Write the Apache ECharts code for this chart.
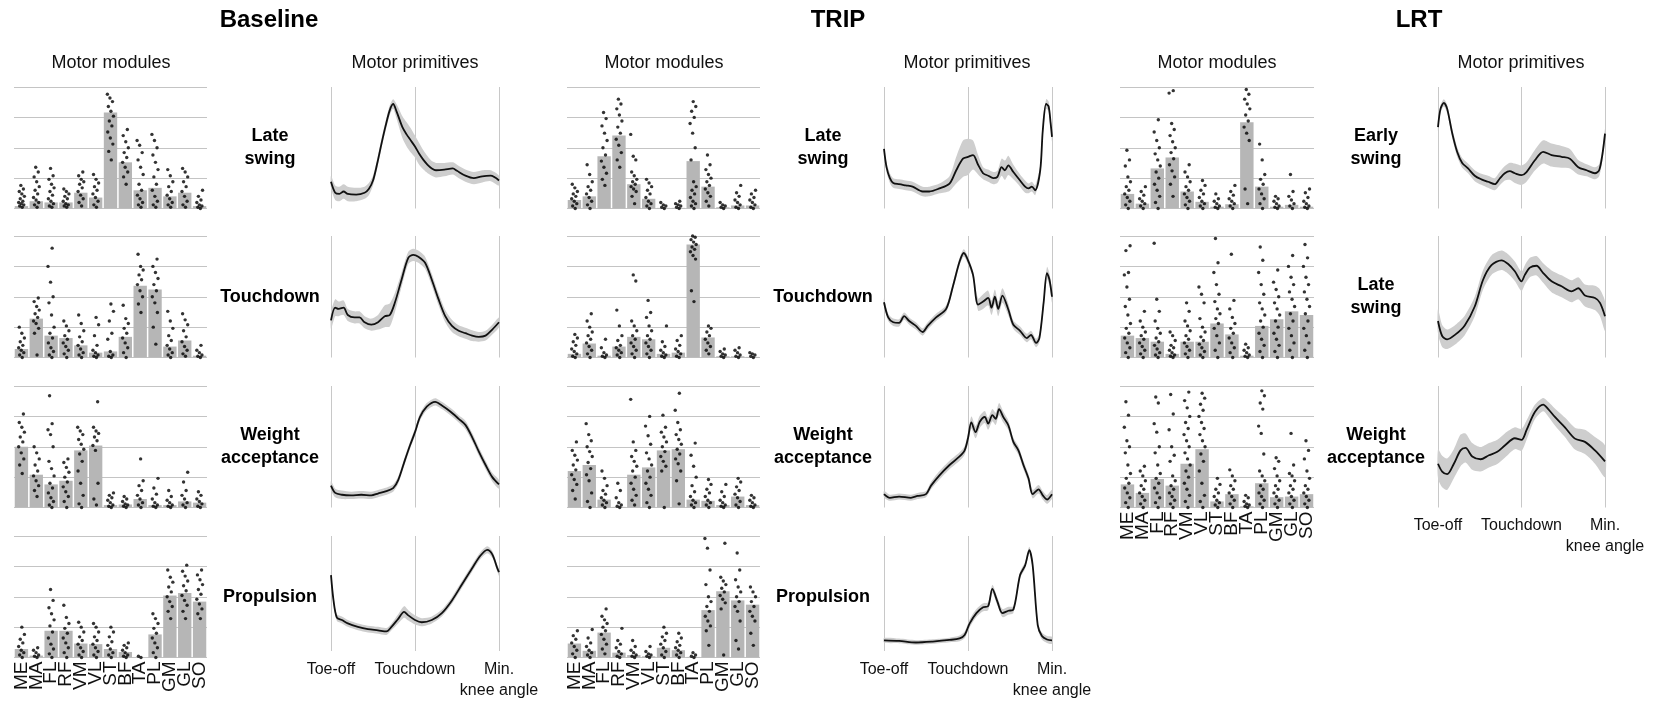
<!DOCTYPE html>
<html><head><meta charset="utf-8">
<script src="https://cdn.jsdelivr.net/npm/echarts@6/dist/echarts.min.js"></script>
<style>html,body{margin:0;padding:0;background:#fff}#c{width:1653px;height:701px}</style>
</head><body><div id="c"></div>
<script>
// ---------- categories / labels ----------
const muscles = ['ME','MA','FL','RF','VM','VL','ST','BF','TA','PL','GM','GL','SO'];
const phaseTicks = ['Toe-off','Touchdown','Min.\nknee angle'];
const groupTitles = ['Baseline','TRIP','LRT'];
const baselineRows = ['Late\nswing','Touchdown','Weight\nacceptance','Propulsion'];
const tripRows = ['Late\nswing','Touchdown','Weight\nacceptance','Propulsion'];
const lrtRows = ['Early\nswing','Late\nswing','Weight\nacceptance'];

// ---------- motor modules (mean bars + individual weights, 0-100) ----------
const baselineLateSwingBars = [2,6,5,5,13,9,79,38,15,17,10,13,2];
const baselineLateSwingDots = [
 [1,2,3,4,5,6,8,10,12,14,16,19],[1,3,5,7,9,12,15,18,22,26,30,34],[1,2,4,6,8,11,14,17,20,24,27,33],
 [1,2,3,4,6,8,10,12,14,16],[2,5,8,11,14,17,20,22,24,27,30],[1,3,6,9,12,15,18,21,24,28],
 [40,47,53,58,63,68,72,76,80,84,88,91,94],[20,26,30,34,38,42,46,50,55,60,65],[1,3,5,8,11,15,20,28,34,40,46,52,56],
 [1,3,6,10,15,20,26,32,38,44,50,56,61],[1,3,5,8,11,14,18,22,27,32],[1,3,6,10,14,18,22,26,30,33],[0,1,2,3,5,7,10,15]];
const baselineTouchdownBars = [7,32,18,16,10,4,5,17,59,56,9,14,1.5];
const baselineTouchdownDots = [
 [0,2,4,6,8,10,13,16,20,25],[2,20,24,28,30,33,36,39,42,46,49],[0,2,5,8,12,16,20,25,35,45,50,62,75,90],
 [0,3,6,9,12,15,18,22,26,30],[0,2,4,7,10,13,17,22,28,35],[0,1,2,4,6,10,18,27,33],
 [0,1,2,5,15,20,30,38,44],[0,4,8,12,16,20,24,28,32,43],[37,44,50,55,60,64,68,72,75,85],
 [11,25,37,45,50,55,60,65,70,75,81],[0,2,4,7,10,14,18,24,30,38],[1,3,6,9,13,17,22,27,31,36],[0,1,2,4,6,10]];
const baselineWeightAccBars = [50,27,19,22,47,51,2,2.5,7,2,2,5,4];
const baselineWeightAccDots = [
 [28,35,40,45,50,54,58,62,66,70,77],[9,14,18,22,26,30,35,40,45,50],[0,2,5,8,12,16,20,26,32,38,50,60,64,69,92],
 [0,5,9,13,17,21,25,29,33,37,40],[0,3,10,20,30,38,44,48,52,56,60,63,66],[2,7,20,47,51,55,58,61,63,66,87],
 [0,1,2,4,6,8,10,12],[0,1,2,3,5,7,9],[0,2,4,7,10,14,18,22,40],
 [0,1,2,4,7,11,16,24],[0,1,2,4,6,9,14],[0,2,4,7,10,14,21,29],[0,1,3,5,7,10,13]];
const baselinePropulsionBars = [7,1.6,22,22,11.5,11,7,4.5,0,19,51,53,46];
const baselinePropulsionDots = [
 [0,2,4,6,9,12,15,19,25],[0,1,2,4,6,8],[0,3,7,11,16,21,26,31,36,41,47,56],
 [0,4,8,12,16,20,24,28,33,43],[0,2,5,8,11,14,17,21,25,29],[0,2,5,8,11,14,17,21,25,28],
 [0,2,4,7,10,13,17,21,25],[0,1,2,4,6,8,10,12],[0,1],
 [0,4,8,12,16,20,24,28,32,36],[32,38,42,46,50,54,58,62,66,72],[32,38,43,47,51,55,59,63,67,71,76],[32,36,40,44,48,52,56,60,64,68,72]];

const tripLateSwingBars = [7,10,43,60,20,8,0.5,0.5,39,18,1,2.5,2.5];
const tripLateSwingDots = [
 [0,2,4,6,8,10,12,14,17,20],[0,3,6,9,12,15,18,22,28,36],[19,24,29,34,39,44,50,56,62,68,74,79],
 [34,40,46,52,57,62,67,72,77,82,86,90],[4,10,14,16,18,20,22,24,27,30,40,43,61],[0,2,4,6,9,12,15,18,21,24],
 [0,1,2,3,5],[0,1,2,3,4,6],[0,2,4,6,9,12,15,18,22,40,50,62,70,75,80,84,88],
 [2,6,10,13,16,19,22,25,28,32,36,44],[0,1,2,3,5],[0,1,3,5,7,10,13,19],[0,1,3,5,7,9,12,15]];
const tripTouchdownBars = [3,11.5,1.5,9,17,15,3,4,93,16.5,1,1,0.5];
const tripTouchdownDots = [
 [0,1,3,5,7,10,13,16,19],[0,3,6,9,12,15,18,21,25,30,36],[0,1,2,4,8,15],
 [0,2,4,6,8,10,14,18,26,39],[0,3,6,9,12,15,18,22,26,30,63,68],[0,3,6,9,12,15,18,22,26,33,37,47],
 [0,1,2,4,6,9,13,26],[0,1,3,5,7,10,14,18],[46,55,81,84,87,89,91,93,95,97,99,100],
 [3,6,9,12,15,18,21,24,26],[0,1,2,3,5,7],[0,1,2,4,6,8],[0,1,2,3,4]];
const tripWeightAccBars = [30,35,6.5,0.5,27,33,47,48,6.5,5.5,2,9,2];
const tripWeightAccDots = [
 [7,14,19,23,27,31,35,39,43,47,54],[0,5,12,22,27,32,37,42,46,50,55,60,69],[0,2,4,6,8,11,14,18,24,30],
 [0,1,2,4,8,14,20],[2,6,10,15,20,25,30,34,38,42,47,54,89],[0,4,10,15,20,25,30,35,40,45,52,59,67,75],
 [0,30,34,38,42,46,50,54,58,62,66,76],[3,22,30,36,40,44,48,52,56,60,64,70,80,94],[0,2,4,6,9,13,18,25,34,43,53],
 [0,2,4,6,9,12,15,19,23],[0,1,2,4,6,9,13,19],[0,2,5,8,11,14,17,21,24],[0,1,2,4,6,8,10]];
const tripPropulsionBars = [11.5,5.5,20.5,4,2,1,8,6,0.5,39,54.5,47,43.5];
const tripPropulsionDots = [
 [0,3,6,9,12,15,18,22],[0,2,4,6,9,12,16,23],[3,7,11,15,19,22,25,28,31,34,40],
 [0,1,3,5,8,11,14,24],[0,1,2,4,6,9,14],[0,1,2,3,5,9],
 [0,2,5,8,11,14,17,20,25],[0,2,4,6,8,10,13,16,20],[0,1,2,4],
 [10,22,26,30,34,38,42,46,50,60,72,90,98],[2,40,45,48,51,54,57,60,63,66,94],[7,14,30,38,42,46,50,54,58,64,72,86],[10,20,30,34,38,42,46,50,54,58]];

const lrtEarlySwingBars = [12,4,33,42,14,5.5,1.5,3.5,71,18,1.5,3,1.5];
const lrtEarlySwingDots = [
 [0,3,6,9,12,15,18,22,26,35,40,48],[0,2,4,6,8,11,14,18],[0,5,10,15,20,25,30,35,40,45,50,56,63,73],
 [10,20,26,31,36,41,46,50,55,60,65,70,95,97],[0,3,6,9,12,15,18,22,26,30,36],[0,2,4,6,9,12,15,19,23],
 [0,1,2,4,6,8,12],[0,2,4,6,8,11,14,19],[4,16,56,62,67,72,77,82,86,90,94,98],
 [0,4,8,12,16,20,24,28,40,53],[0,1,2,4,6,8,10],[0,2,4,7,10,14,28],[0,1,2,4,6,9,13,16]];
const lrtLateSwingBars = [18,16,13,3,13,13,28,19,1.5,26,31.5,38,35];
const lrtLateSwingDots = [
 [0,4,8,12,16,20,24,28,35,42,48,58,68,70,88,92],[0,3,6,9,12,15,18,21,25,30,38],[0,2,4,7,10,13,16,20,24,30,38,48,94],
 [0,1,2,4,6,8,10,14,18,21],[0,3,6,9,12,15,18,22,26,30,38,45],[0,2,5,8,11,14,17,21,25,32,45,52,58],
 [0,6,12,18,24,28,32,36,40,46,52,60,70,78,98],[0,4,8,12,16,20,24,28,33,40,47,85],[0,1,2,4,6,8,11],
 [0,5,10,15,20,25,30,35,40,45,52,60,70,80,91],[0,5,10,15,20,25,30,35,40,45,50,56,62,72],
 [0,6,12,18,24,30,36,42,48,54,60,66,75,84],[0,6,12,18,24,30,36,42,48,54,60,66,75,82,93]];
const lrtWeightAccBars = [19,12,23.5,18,36,48,5,11,1,20,8.5,9,11];
const lrtWeightAccDots = [
 [0,4,8,12,16,20,24,28,35,45,50,55,66,76,87],[0,3,6,9,12,15,18,22,26,30,34],[0,4,8,12,16,20,24,28,35,45,50,62,69,86,91],
 [0,3,6,9,12,15,18,22,26,38,43,50,64,77,93],[0,5,10,15,20,25,30,35,40,45,50,55,60,65,70,75,82,88,95],
 [0,5,10,20,30,38,44,50,55,60,65,70,75,80,85,90,94],[0,2,4,6,9,12,15,19,24],[0,3,6,9,12,15,18,22,26,31],
 [0,1,2,3,5,8,10],[0,3,6,9,12,15,18,22,26,30,44,61,67,81,86,92,96],[0,3,6,9,12,15,18,22,26,32,38,41],
 [0,3,6,9,12,15,18,22,26,28,35,61],[0,3,6,9,12,15,18,24,30,40,47,55]];

// ---------- motor primitives (phase 0=toe-off, 50=touchdown, 100=min knee angle) ----------
const baselineLateSwingPhase = [0,2.5,5,7.5,10,15,20,22.5,25,27.5,30,32.5,35,37,39,42.5,45,47.5,50,52.5,55,57.5,60,62.5,67.5,72.5,75,80,85,90,95,100];
const baselineLateSwingMean  = [22,13,12,14,12,11.5,13,16,23,37,53,68,81,86,80,67,61,56,51,45,40,36,33,31.5,32,33,31,27,25,26.5,27,23];
const baselineLateSwingSpread= [5,6,6,6,6,5.5,5,5,4,4,4,4,4,4,6,9,10,10,9,9,8,7,6,6,5.5,5,5,5,5,5,4.5,4];
const baselineTouchdownPhase = [0,2.5,4.5,7.5,10,14,17,20,24,28,32,35,38,42,46,49,52,56,60,64,68,72,76,80,84,88,92,96,100];
const baselineTouchdownMean  = [30.5,41,40,41,35,33,33,29,27,29,34,35,45,64,82,84.5,83,78,64,48,34,26,22,20,18,17,18,23,29];
const baselineTouchdownSpread= [7,7,6,6,5,5,5,5,5,6,9,9.5,8,6,5,5,5,5,5,5,5,5,4.5,4.5,4.5,4,4,4,4];
const baselineWeightAccPhase = [0,2.5,6.5,12,18,24,28,32,37,40,44,47,50,53,57,62,66,71,76,80,84,88,92,96,100];
const baselineWeightAccMean  = [18,12,10.5,10,10.5,10,11.5,13,16,22.5,39,51,62,74.5,83,87,84,79,73,68,58,46,35,25,19];
const baselineWeightAccSpread= [4,3.5,3.5,3,3,3,3,3,3,3,3,3,3,3,3,3,3,3,3,3.5,3.5,3.5,3.5,3.5,3.5];
const baselinePropulsionPhase = [0,1.5,3.5,6.5,10,16,22,28,33,36,40,43.5,46,50,54,60,66,72,78,84,89,93,96,99,100];
const baselinePropulsionMean  = [66,44,29,27,24,21,19,18,17,21,28,34,31,27,25,27,33,44,58,72,83,88,84,72,68.5];
const baselinePropulsionSpread= [3,3,3,3,3,3,3,3,3,3,4,5,4.5,4,3.5,3,3,3,3,3,3,3,3,3,3];

const tripLateSwingPhase = [0,1.5,3.5,5.5,9,13,17,23,27,33,39,43,47,50,53,56,59,62,65,67.5,70,72,74,77,81,84,86,88,90,93,94.5,96.5,98,99.2,100];
const tripLateSwingMean  = [49,34,25,21,20,19,18,14,14,16.5,20.5,31.5,41,42.5,44,36,29,27,25,26,34,31.5,35.5,30,23,18,16.5,18,15,31.5,64,86,84,70,59];
const tripLateSwingSpread= [3,4,4,4,4,4,4,4,4,4,6,11,15,15,12,8,5,5,5,5,7,8,8,6,5,5,4,4,4,4,4,4,4,4,4];
const tripTouchdownPhase = [0,2.5,5.5,9,12,15,19,23,26,31,37,41,45,47.5,50,53,56,59,62,64,66,68,70.5,74,77,81,85,87.5,90.5,92.5,95,97,98.5,100];
const tripTouchdownMean  = [45.5,33,29,28.5,34,30,26,21,26,33,40,58.5,79,86,80,68,43.5,46,49,41,50,40,51,39.5,27,22,16,18.5,12,16,45,69.5,64,50];
const tripTouchdownSpread= [3,3,3,3,3,3,3,3,3,3,3,3,3,3,3,3,5,6,6,6,6,6,6,5,3.5,3.5,3.5,3.5,3.5,3.5,4,5,5,5];
const tripWeightAccPhase = [0,3.5,9,16,20,25,28,33,39,45,48,50,52,54.5,57,60,62,64.5,66.5,68.5,71,74,77,80,83,86,88.5,92,94.5,97,100];
const tripWeightAccMean  = [11,8,9,8,9.5,11,18,26.5,35,42,47,57,70,62,70.5,74.5,69,76,73,81,74.5,67.7,54,47,35,24,11,15,10,6.6,11];
const tripWeightAccSpread= [2.5,2.5,2.5,2.5,2.5,2.5,3,3.5,3.5,3.5,3.5,4.5,5,5,5,5,5,5,5,5,4.5,4,3.5,3.5,3.5,3.5,3.5,3.5,3.5,3.5,3.5];
const tripPropulsionPhase = [0,9,19,29,39,45,48,51,55,59,62,64.5,67.5,70.5,74,77,81,84,86.5,88.5,91.5,94,97,100];
const tripPropulsionMean  = [9.3,8.8,7.4,8.2,9.6,11,14,24,33,38,39,54,43,33,35,36,66,74.5,87.7,74.5,22.5,13,10,9.3];
const tripPropulsionSpread= [2,2,2,2,2,2.5,3,3.5,3.5,3.5,3.5,3.5,3.5,3.5,3.5,3,3,3,3,3,3,3,3,3];

const lrtEarlySwingPhase = [0,1.5,3.5,5.5,8.5,11.5,14.5,18,22,26,30,34,37,40,43,46,50,53,58,63,68,74,79,84,89,94,96.5,98.5,100];
const lrtEarlySwingMean  = [67,82,87,82,62,46.5,37.5,33,27,24,22,20,24.7,29,30.7,29,27.4,30,39.7,46.6,44,42.5,41,34,31.5,29,31.5,45,61.6];
const lrtEarlySwingSpread= [3,3,3,3.5,4,4,4,4,4.5,4.5,5,5,5.5,6,7,8,8,8,8.5,9.5,9.5,9,8,6,5,5,5,5,4];
const lrtLateSwingPhase = [0,2.5,5.5,10.5,16,22,27,32,38,42,46,50,52,55,59,63,68,74,80,84,88,94,97,100];
const lrtLateSwingMean  = [30,17.7,15,19,26.4,42,64,76,80,77,71,62.7,68,74,75.5,69.5,62.7,58.6,54.5,57,51,49,45,34];
const lrtLateSwingSpread= [10,9,8,8,8,8,8,8,8,8,8,8,8,8,8,8,9,9,9,9,9,10,11,12];
const lrtWeightAccPhase = [0,2.5,5.5,9.5,13.5,16.5,20.5,25.5,30.5,35.5,40,46,50,53,58,63,66,70,76,82,88,94,100];
const lrtWeightAccMean  = [36,29.6,27.4,36,47,49,42,39.7,43,45.8,51,57,55.6,63.6,78.6,84.7,81,74.5,66,56.7,54,47,38];
const lrtWeightAccSpread= [12,13,13,12,13,12,11,10,10,10,10,9,9,8,6,5.5,6,7,8,9,10,11,13];

// ---------- panel list ----------
const panels = [
 {g:0,r:0,label:baselineRows[0],bars:baselineLateSwingBars,dots:baselineLateSwingDots,ph:baselineLateSwingPhase,m:baselineLateSwingMean,s:baselineLateSwingSpread},
 {g:0,r:1,label:baselineRows[1],bars:baselineTouchdownBars,dots:baselineTouchdownDots,ph:baselineTouchdownPhase,m:baselineTouchdownMean,s:baselineTouchdownSpread},
 {g:0,r:2,label:baselineRows[2],bars:baselineWeightAccBars,dots:baselineWeightAccDots,ph:baselineWeightAccPhase,m:baselineWeightAccMean,s:baselineWeightAccSpread},
 {g:0,r:3,label:baselineRows[3],bars:baselinePropulsionBars,dots:baselinePropulsionDots,ph:baselinePropulsionPhase,m:baselinePropulsionMean,s:baselinePropulsionSpread,bottom:true},
 {g:1,r:0,label:tripRows[0],bars:tripLateSwingBars,dots:tripLateSwingDots,ph:tripLateSwingPhase,m:tripLateSwingMean,s:tripLateSwingSpread},
 {g:1,r:1,label:tripRows[1],bars:tripTouchdownBars,dots:tripTouchdownDots,ph:tripTouchdownPhase,m:tripTouchdownMean,s:tripTouchdownSpread},
 {g:1,r:2,label:tripRows[2],bars:tripWeightAccBars,dots:tripWeightAccDots,ph:tripWeightAccPhase,m:tripWeightAccMean,s:tripWeightAccSpread},
 {g:1,r:3,label:tripRows[3],bars:tripPropulsionBars,dots:tripPropulsionDots,ph:tripPropulsionPhase,m:tripPropulsionMean,s:tripPropulsionSpread,bottom:true},
 {g:2,r:0,label:lrtRows[0],bars:lrtEarlySwingBars,dots:lrtEarlySwingDots,ph:lrtEarlySwingPhase,m:lrtEarlySwingMean,s:lrtEarlySwingSpread},
 {g:2,r:1,label:lrtRows[1],bars:lrtLateSwingBars,dots:lrtLateSwingDots,ph:lrtLateSwingPhase,m:lrtLateSwingMean,s:lrtLateSwingSpread},
 {g:2,r:2,label:lrtRows[2],bars:lrtWeightAccBars,dots:lrtWeightAccDots,ph:lrtWeightAccPhase,m:lrtWeightAccMean,s:lrtWeightAccSpread,bottom:true}
];

// ---------- layout ----------
const FONT = '"Liberation Sans", Arial, sans-serif';
const modX = [[14,207],[567,760],[1120,1314]];
const primX = [[331,499],[884,1052],[1438,1605]];
const rowTop = [87,236,386,536];
const rowH = 121.5;
const labelX = [270,823,1376];
const titleX = [269,838,1419];
const modTitleX = [111,664,1217];
const primTitleX = [415,967,1521];

const grid=[], xAxis=[], yAxis=[], series=[], graphic=[];
panels.forEach(p => {
  // module panel
  const gi = grid.length;
  grid.push({left:modX[p.g][0], top:rowTop[p.r], width:modX[p.g][1]-modX[p.g][0], height:rowH});
  const xc = xAxis.length;
  xAxis.push({type:'category', gridIndex:gi, data:muscles, axisLine:{show:false}, axisTick:{show:false},
    axisLabel:{show:!!p.bottom, rotate:90, interval:0, margin:4, fontSize:19, color:'#111', fontFamily:FONT}});
  const xv = xAxis.length;
  xAxis.push({type:'value', gridIndex:gi, min:-0.5, max:12.5, show:false});
  const ya = yAxis.length;
  yAxis.push({type:'value', gridIndex:gi, min:0, max:100, interval:25, axisLine:{show:false}, axisTick:{show:false},
    axisLabel:{show:false}, splitLine:{lineStyle:{color:'#c4c4c4', width:1}}});
  series.push({type:'bar', xAxisIndex:xc, yAxisIndex:ya, data:p.bars, barCategoryGap:'10%',
    itemStyle:{color:'#b6b6b6'}, silent:true, z:2});
  const pts=[];
  p.dots.forEach((arr,mi)=>arr.forEach((v,i)=>{
    const jit = (((i+1)*0.6180339887)%1 - 0.5)*0.45;
    pts.push([mi+jit, v]);
  }));
  series.push({type:'scatter', xAxisIndex:xv, yAxisIndex:ya, data:pts, symbolSize:3.4,
    itemStyle:{color:'#000'}, silent:true, z:3});

  // primitive panel
  const gj = grid.length;
  grid.push({left:primX[p.g][0], top:rowTop[p.r], width:primX[p.g][1]-primX[p.g][0], height:rowH});
  const xp = xAxis.length;
  xAxis.push({type:'value', gridIndex:gj, min:0, max:100, interval:50, axisLine:{show:false}, axisTick:{show:false},
    splitLine:{show:true, lineStyle:{color:'#c8c8c8', width:1}},
    axisLabel:{show:!!p.bottom, margin:8, fontSize:16, lineHeight:21, color:'#111', fontFamily:FONT, hideOverlap:false,
      showMinLabel:true, showMaxLabel:true, formatter:v=>phaseTicks[Math.round(v/50)]}});
  const yp = yAxis.length;
  yAxis.push({type:'value', gridIndex:gj, min:0, max:100, show:false});
  const upper = p.ph.map((x,i)=>[x, p.m[i]+p.s[i]]);
  const lower = p.ph.map((x,i)=>[x, p.m[i]-p.s[i]]).reverse();
  series.push({type:'custom', coordinateSystem:'cartesian2d', xAxisIndex:xp, yAxisIndex:yp, silent:true, z:2,
    data:[0],
    renderItem:(params, api)=>{
      const pu = upper.map(q=>api.coord(q));
      const pl = lower.map(q=>api.coord(q));
      return {type:'polygon', shape:{points:pu.concat(pl), smooth:0.25}, style:{fill:'#cecece', stroke:null}};
    }});
  series.push({type:'line', xAxisIndex:xp, yAxisIndex:yp, smooth:0.3, symbol:'none', silent:true,
    data:p.ph.map((x,i)=>[x, p.m[i]]), lineStyle:{color:'#111', width:1.8}, z:4});

  graphic.push({type:'text', x:labelX[p.g], y:rowTop[p.r]+rowH/2, silent:true,
    style:{text:p.label, font:'bold 18px '+FONT, fill:'#000', align:'center', verticalAlign:'middle', lineHeight:23}});
});
groupTitles.forEach((t,g)=>{
  graphic.push({type:'text', x:titleX[g], y:20, silent:true,
    style:{text:t, font:'bold 24px '+FONT, fill:'#000', align:'center', verticalAlign:'middle'}});
  graphic.push({type:'text', x:modTitleX[g], y:63, silent:true,
    style:{text:'Motor modules', font:'18px '+FONT, fill:'#111', align:'center', verticalAlign:'middle'}});
  graphic.push({type:'text', x:primTitleX[g], y:63, silent:true,
    style:{text:'Motor primitives', font:'18px '+FONT, fill:'#111', align:'center', verticalAlign:'middle'}});
});

const chart = echarts.init(document.getElementById('c'));
chart.setOption({animation:false, backgroundColor:'#fff', grid, xAxis, yAxis, series, graphic});
</script>
</body></html>
